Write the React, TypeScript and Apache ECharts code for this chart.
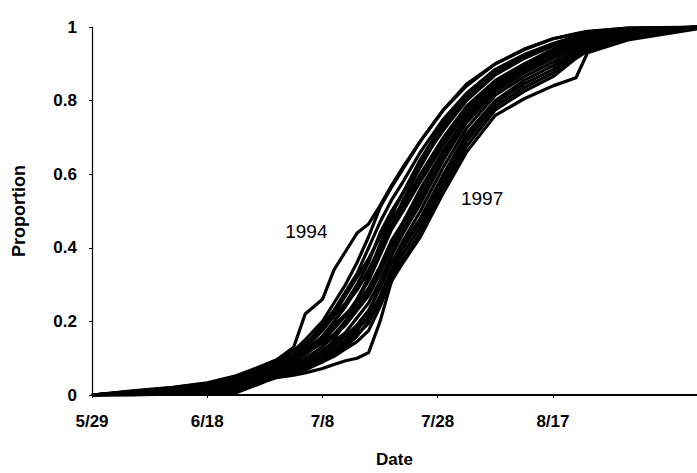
import React, { useEffect, useRef } from "react";
import * as echarts from "echarts";

// Days after 5/29 at which each season's cumulative proportion was read
const DAYS = [0, 7, 14, 20, 25, 29, 32, 35, 37, 40, 42, 44, 46, 48, 50, 52, 54, 57, 61, 65, 70, 75, 80, 84, 86, 93, 105];

// X-axis tick positions (days after 5/29) and their labels
const X_TICKS = [0, 20, 40, 60, 80];
const X_TICK_LABELS = ["5/29", "6/18", "7/8", "7/28", "8/17"];

// Labelled seasons
const Y1994 = [0, 0.008, 0.018, 0.03, 0.05, 0.075, 0.095, 0.13, 0.22, 0.26, 0.34, 0.39, 0.44, 0.465, 0.515, 0.57, 0.62, 0.69, 0.775, 0.845, 0.9, 0.94, 0.968, 0.982, 0.988, 0.997, 1];
const Y1997 = [0, 0, 0.002, 0.004, 0.006, 0.03, 0.05, 0.06, 0.068, 0.09, 0.11, 0.13, 0.16, 0.2, 0.25, 0.31, 0.36, 0.43, 0.55, 0.66, 0.76, 0.805, 0.84, 0.862, 0.93, 0.965, 0.995];

// Other seasons
const S_A = [0, 0.011, 0.021, 0.033, 0.052, 0.076, 0.095, 0.12, 0.15, 0.2, 0.25, 0.3, 0.36, 0.43, 0.51, 0.565, 0.615, 0.69, 0.775, 0.84, 0.9, 0.938, 0.968, 0.981, 0.987, 0.997, 1];
const S_B = [0, 0.01, 0.018, 0.03, 0.048, 0.072, 0.09, 0.11, 0.135, 0.19, 0.23, 0.28, 0.33, 0.4, 0.47, 0.53, 0.58, 0.66, 0.75, 0.82, 0.885, 0.925, 0.955, 0.975, 0.982, 0.995, 1];
const S_C = [0, 0.008, 0.017, 0.027, 0.044, 0.068, 0.088, 0.105, 0.128, 0.175, 0.215, 0.25, 0.3, 0.36, 0.44, 0.5, 0.55, 0.63, 0.72, 0.8, 0.87, 0.915, 0.95, 0.97, 0.978, 0.993, 1];
const S_D = [0, 0.006, 0.015, 0.025, 0.04, 0.06, 0.08, 0.1, 0.12, 0.16, 0.2, 0.24, 0.29, 0.33, 0.41, 0.48, 0.52, 0.6, 0.7, 0.785, 0.855, 0.9, 0.94, 0.963, 0.972, 0.99, 1];
const S_E = [0, 0.005, 0.013, 0.022, 0.036, 0.056, 0.075, 0.092, 0.11, 0.145, 0.18, 0.215, 0.26, 0.31, 0.38, 0.45, 0.5, 0.58, 0.68, 0.77, 0.845, 0.89, 0.93, 0.958, 0.968, 0.988, 1];
const S_F = [0, 0.008, 0.016, 0.028, 0.045, 0.065, 0.082, 0.1, 0.12, 0.155, 0.19, 0.22, 0.25, 0.29, 0.35, 0.42, 0.47, 0.55, 0.65, 0.745, 0.83, 0.88, 0.92, 0.948, 0.96, 0.985, 1];
const S_G = [0, 0.004, 0.011, 0.02, 0.032, 0.052, 0.07, 0.085, 0.1, 0.13, 0.16, 0.19, 0.23, 0.27, 0.33, 0.4, 0.46, 0.545, 0.655, 0.76, 0.84, 0.885, 0.925, 0.952, 0.964, 0.987, 1];
const S_H = [0, 0.003, 0.01, 0.018, 0.03, 0.048, 0.066, 0.08, 0.093, 0.12, 0.145, 0.17, 0.21, 0.25, 0.31, 0.38, 0.44, 0.52, 0.64, 0.74, 0.825, 0.875, 0.915, 0.945, 0.958, 0.984, 1];
const S_I = [0, 0.002, 0.008, 0.016, 0.027, 0.045, 0.062, 0.075, 0.088, 0.11, 0.135, 0.16, 0.19, 0.23, 0.29, 0.36, 0.42, 0.5, 0.62, 0.725, 0.815, 0.865, 0.905, 0.938, 0.953, 0.982, 1];
const S_J = [0, 0.004, 0.012, 0.02, 0.03, 0.047, 0.06, 0.072, 0.085, 0.105, 0.125, 0.15, 0.18, 0.21, 0.27, 0.34, 0.41, 0.48, 0.6, 0.71, 0.8, 0.855, 0.895, 0.932, 0.948, 0.98, 1];
const S_K = [0, 0.002, 0.007, 0.013, 0.022, 0.04, 0.056, 0.068, 0.08, 0.1, 0.12, 0.14, 0.165, 0.195, 0.26, 0.33, 0.4, 0.47, 0.59, 0.7, 0.795, 0.845, 0.885, 0.928, 0.945, 0.978, 0.999];
const S_L = [0, 0.001, 0.006, 0.011, 0.018, 0.036, 0.052, 0.062, 0.073, 0.09, 0.105, 0.125, 0.145, 0.175, 0.24, 0.32, 0.385, 0.455, 0.575, 0.69, 0.785, 0.835, 0.875, 0.922, 0.94, 0.975, 0.998];
const S_M = [0, 0, 0.004, 0.008, 0.013, 0.032, 0.047, 0.054, 0.06, 0.072, 0.083, 0.093, 0.1, 0.115, 0.2, 0.31, 0.37, 0.44, 0.56, 0.675, 0.775, 0.825, 0.865, 0.915, 0.935, 0.972, 0.997];
const S_P = [0, 0.003, 0.009, 0.015, 0.025, 0.042, 0.058, 0.07, 0.082, 0.11, 0.15, 0.2, 0.26, 0.32, 0.39, 0.46, 0.53, 0.62, 0.73, 0.81, 0.875, 0.915, 0.948, 0.968, 0.976, 0.992, 1];
const S_Q = [0, 0.007, 0.016, 0.026, 0.042, 0.064, 0.085, 0.1, 0.115, 0.14, 0.165, 0.2, 0.24, 0.28, 0.34, 0.41, 0.47, 0.56, 0.665, 0.755, 0.835, 0.88, 0.918, 0.946, 0.958, 0.985, 1];
const S_R = [0, 0.009, 0.02, 0.032, 0.05, 0.07, 0.088, 0.108, 0.14, 0.18, 0.22, 0.27, 0.32, 0.37, 0.43, 0.49, 0.55, 0.64, 0.74, 0.815, 0.88, 0.92, 0.952, 0.972, 0.98, 0.994, 1];
const S_S = [0, 0.001, 0.005, 0.01, 0.016, 0.038, 0.055, 0.065, 0.076, 0.095, 0.115, 0.14, 0.175, 0.22, 0.3, 0.38, 0.45, 0.53, 0.64, 0.745, 0.83, 0.878, 0.918, 0.948, 0.96, 0.985, 1];
const S_T = [0, 0.006, 0.014, 0.024, 0.038, 0.058, 0.078, 0.095, 0.115, 0.15, 0.2, 0.245, 0.285, 0.34, 0.4, 0.46, 0.51, 0.59, 0.69, 0.78, 0.85, 0.895, 0.935, 0.96, 0.97, 0.989, 1];

const OTHER = [S_A, S_B, S_C, S_D, S_E, S_F, S_G, S_H, S_I, S_J, S_K, S_L, S_M, S_P, S_Q, S_R, S_S, S_T];

// Label anchors [day, proportion]
const LABEL_1994 = [37.2, 0.443];
const LABEL_1997 = [67.7, 0.535];

const FONT = "'Liberation Sans', Arial, Helvetica, sans-serif";

function toPairs(vals: number[]) {
  return DAYS.map((d, i) => [d, vals[i]]);
}

export default function App() {
  const ref = useRef<HTMLDivElement>(null);

  useEffect(() => {
    if (!ref.current) return;
    const chart = echarts.init(ref.current, undefined, { renderer: "svg" });

    const lineStyle = { color: "#000", width: 3.2, join: "round" };
    const base = {
      type: "line",
      showSymbol: false,
      symbol: "none",
      smooth: false,
      silent: true,
      lineStyle,
    };

    const series: any[] = OTHER.map((vals, i) => ({
      ...base,
      name: "season " + (i + 1),
      data: toPairs(vals),
    }));

    const labelStyle = {
      show: true,
      position: "inside",
      color: "#000",
      fontSize: 19,
      fontFamily: FONT,
      fontWeight: "normal",
    };

    series.push({
      ...base,
      name: "1994",
      data: toPairs(Y1994),
      markPoint: {
        symbol: "circle",
        symbolSize: 0,
        silent: true,
        label: { ...labelStyle, formatter: "1994" },
        data: [{ coord: LABEL_1994 }],
      },
    });
    series.push({
      ...base,
      name: "1997",
      data: toPairs(Y1997),
      markPoint: {
        symbol: "circle",
        symbolSize: 0,
        silent: true,
        label: { ...labelStyle, formatter: "1997" },
        data: [{ coord: LABEL_1997 }],
      },
    });

    chart.setOption({
      animation: false,
      backgroundColor: "#fff",
      grid: { left: 92, right: 0, top: 27, bottom: 76, containLabel: false },
      xAxis: {
        type: "value",
        min: 0,
        max: 105,
        interval: 20,
        name: "Date",
        nameLocation: "middle",
        nameGap: 56,
        nameTextStyle: { fontFamily: FONT, fontWeight: "bold", fontSize: 17, color: "#000" },
        axisLine: { show: true, lineStyle: { color: "#000", width: 2 } },
        axisTick: { show: true, length: 3, lineStyle: { color: "#000", width: 1 }, customValues: X_TICKS },
        axisLabel: {
          customValues: X_TICKS,
          margin: 18,
          color: "#000",
          fontFamily: FONT,
          fontWeight: "bold",
          fontSize: 17,
          formatter: (v: number) => {
            const i = X_TICKS.indexOf(Math.round(v));
            return i >= 0 ? X_TICK_LABELS[i] : "";
          },
        },
        splitLine: { show: false },
      },
      yAxis: {
        type: "value",
        min: 0,
        max: 1,
        interval: 0.2,
        name: "Proportion",
        nameLocation: "middle",
        nameRotate: 90,
        nameGap: 64,
        nameTextStyle: { fontFamily: FONT, fontWeight: "bold", fontSize: 18, color: "#000" },
        axisLine: { show: true, lineStyle: { color: "#000", width: 1.2 } },
        axisTick: { show: true, length: 3, lineStyle: { color: "#000", width: 1 } },
        axisLabel: {
          margin: 15,
          color: "#000",
          fontFamily: FONT,
          fontWeight: "bold",
          fontSize: 17,
        },
        splitLine: { show: false },
      },
      series,
    });

    return () => chart.dispose();
  }, []);

  return <div ref={ref} style={{ width: 697, height: 473, position: "absolute", left: 0, top: 0 }} />;
}
